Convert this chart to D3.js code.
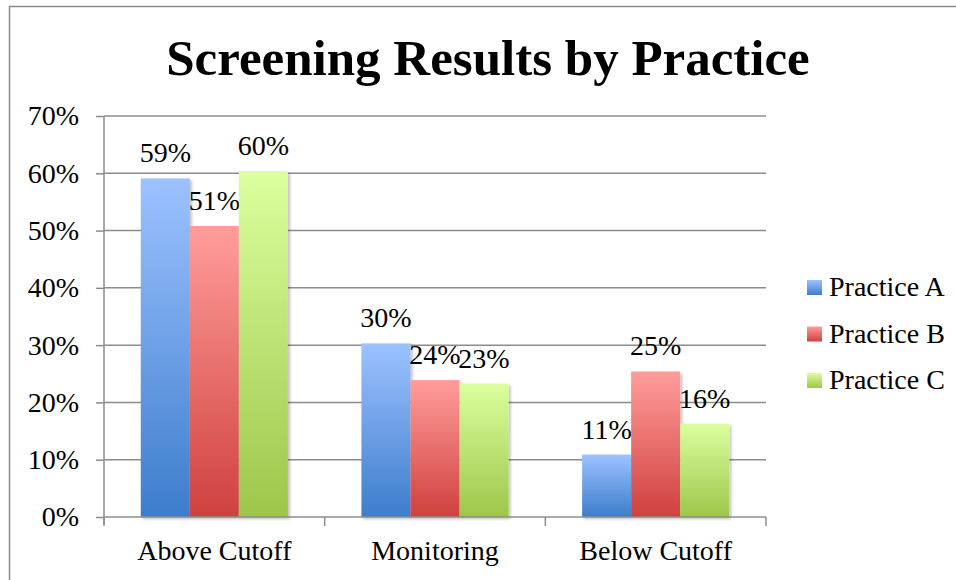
<!DOCTYPE html>
<html>
<head>
<meta charset="utf-8">
<script src="https://cdn.jsdelivr.net/npm/d3@7"></script>
<style>
  body { margin: 0; background: #fff; }
  text { font-family: "Liberation Serif", "DejaVu Serif", serif; }
</style>
</head>
<body>
<div id="theGraph"></div>
<script>
const categories = ["Above Cutoff", "Monitoring", "Below Cutoff"];
const seriesNames = ["Practice A", "Practice B", "Practice C"];
const practiceA = [59.1, 30.3, 10.9];
const practiceB = [50.8, 23.9, 25.4];
const practiceC = [60.4, 23.3, 16.3];
const yTicks = [0, 10, 20, 30, 40, 50, 60, 70];

const width = 956, height = 580,
    margin = {left: 104, top: 116, right: 190, bottom: 63},
    contentWidth = width - margin.left - margin.right,
    contentHeight = height - margin.top - margin.bottom;

const colors = [
    {top: "#9cc2ff", bottom: "#3d7dcc"},
    {top: "#ff9d9b", bottom: "#cf413e"},
    {top: "#dbff9e", bottom: "#9dc64a"}
];

const svg = d3.select("#theGraph").append("svg").attr("width", width).attr("height", height);

// gradients for the bars
const defs = svg.append("defs");
colors.forEach((c, i) => {
    const g = defs.append("linearGradient").attr("id", "grad" + i)
        .attr("x1", 0).attr("y1", 0).attr("x2", 0).attr("y2", 1);
    g.append("stop").attr("offset", "0%").attr("stop-color", c.top);
    g.append("stop").attr("offset", "100%").attr("stop-color", c.bottom);
});
const shadow = defs.append("filter").attr("id", "shadow").attr("x", "-20%").attr("y", "-5%").attr("width", "150%").attr("height", "120%");
shadow.append("feDropShadow").attr("dx", 2).attr("dy", 2).attr("stdDeviation", 1.5).attr("flood-color", "#000").attr("flood-opacity", 0.25);

// outer frame
svg.append("path").attr("d", "M9.5,580 L9.5,6.5 L956,6.5").attr("fill", "none").attr("stroke", "#8c8c8c").attr("stroke-width", 1.5);

svg.append("text").attr("x", 488).attr("y", 75).attr("text-anchor", "middle")
    .attr("font-size", 51).attr("font-weight", "bold").text("Screening Results by Practice");

const maing = svg.append("g").attr("transform", `translate(${margin.left}, ${margin.top})`);

// excel style gap width 150%
const xScale = d3.scaleBand().domain(categories).range([0, contentWidth]).paddingInner(1 / 3).paddingOuter(1 / 6);
const yScale = d3.scaleLinear().domain([0, 70]).range([contentHeight, 0]);
const xInner = d3.scaleBand().domain(seriesNames).range([0, xScale.bandwidth()]);

// grid lines
maing.selectAll(".grid").data(yTicks.slice(1)).enter().append("line").attr("class", "grid")
    .attr("x1", 0).attr("x2", contentWidth)
    .attr("y1", d => yScale(d)).attr("y2", d => yScale(d))
    .attr("stroke", "#8c8c8c").attr("stroke-width", 1.5);

// y axis
const yAxis = maing.append("g").call(d3.axisLeft(yScale).tickValues(yTicks).tickFormat(d => d + "%").tickSize(8).tickSizeOuter(0).tickPadding(17));
yAxis.select(".domain").attr("stroke", "#8c8c8c").attr("stroke-width", 1.5).attr("d", `M0,0V${contentHeight + 7}`);
yAxis.selectAll(".tick line").attr("stroke", "#8c8c8c").attr("stroke-width", 1.5);
yAxis.selectAll(".tick text").attr("font-size", 28).attr("fill", "#000").attr("font-family", "Liberation Serif");

// bars
const seriesData = [practiceA, practiceB, practiceC];
const groups = maing.selectAll(".series").data(seriesData).enter().append("g").attr("class", "series");
groups.selectAll("rect").data((d, i) => d.map((v, j) => ({v: v, s: i, c: categories[j]}))).enter().append("rect")
    .attr("x", d => xScale(d.c) + xInner(seriesNames[d.s]))
    .attr("y", d => yScale(d.v))
    .attr("width", xInner.bandwidth())
    .attr("height", d => contentHeight - yScale(d.v))
    .attr("fill", d => `url(#grad${d.s})`)
    .attr("filter", "url(#shadow)");

// x axis
const xAxisLine = maing.append("g").attr("transform", `translate(0, ${contentHeight})`);
xAxisLine.append("line").attr("x1", 0).attr("x2", contentWidth).attr("stroke", "#8c8c8c").attr("stroke-width", 1.5);
xAxisLine.selectAll(".xtick").data(d3.range(categories.length + 1)).enter().append("line")
    .attr("x1", d => d * contentWidth / categories.length).attr("x2", d => d * contentWidth / categories.length)
    .attr("y1", 0).attr("y2", 9).attr("stroke", "#8c8c8c").attr("stroke-width", 1.5);
xAxisLine.selectAll(".xlabel").data(categories).enter().append("text")
    .attr("x", d => xScale(d) + xScale.bandwidth() / 2).attr("y", 43)
    .attr("text-anchor", "middle").attr("font-size", 28).text(d => d);

// value labels
groups.selectAll(".val").data((d, i) => d.map((v, j) => ({v: v, s: i, c: categories[j]}))).enter().append("text")
    .attr("x", d => xScale(d.c) + xInner(seriesNames[d.s]) + xInner.bandwidth() / 2)
    .attr("y", d => yScale(d.v) - 16)
    .attr("text-anchor", "middle").attr("font-size", 28)
    .text(d => Math.round(d.v) + "%");

// legend
const legend = svg.append("g").attr("transform", "translate(807, 280)");
const items = legend.selectAll(".item").data(seriesNames).enter().append("g")
    .attr("transform", (d, i) => `translate(0, ${i * 46.5})`);
items.append("rect").attr("x", 0).attr("y", 0).attr("width", 15).attr("height", 15)
    .attr("fill", (d, i) => `url(#grad${i})`);
items.append("text").attr("x", 22).attr("y", 16).attr("font-size", 28).text(d => d);
</script>
</body>
</html>
